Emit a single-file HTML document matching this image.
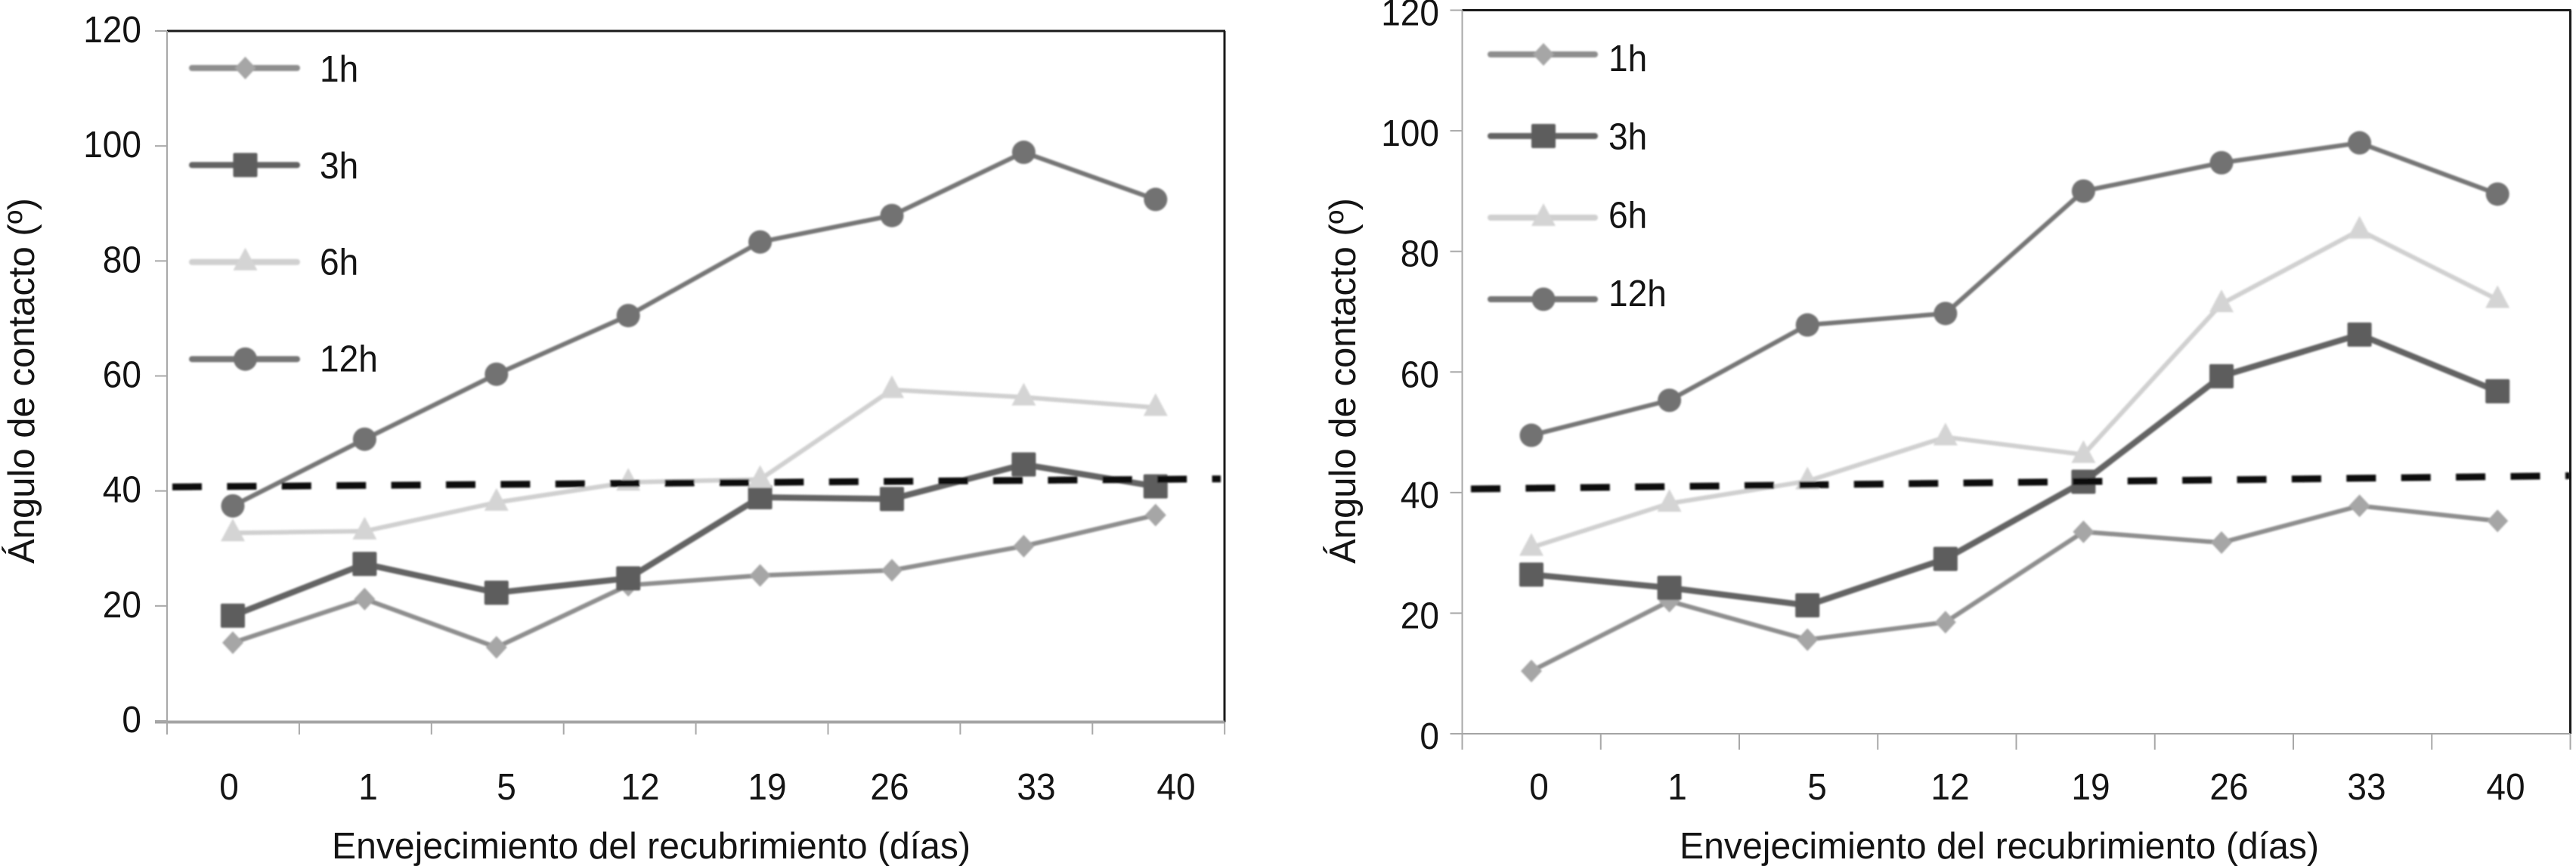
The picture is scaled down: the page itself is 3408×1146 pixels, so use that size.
<!DOCTYPE html>
<html lang="es">
<head>
<meta charset="utf-8">
<title>Ángulo de contacto</title>
<style>
html,body{margin:0;padding:0;background:#fff;}
svg{display:block;}
text{font-family:"Liberation Sans",Arial,sans-serif;fill:#141414;}
.lbl{font-size:49px;}
</style>
</head>
<body>
<svg id="figure" xmlns="http://www.w3.org/2000/svg" width="3408" height="1146" viewBox="0 0 3408 1146">
  <defs><filter id="soft" x="-5%" y="-5%" width="110%" height="110%"><feGaussianBlur stdDeviation="1"/></filter></defs>
  <rect x="0" y="0" width="3408" height="1146" fill="#ffffff"/>
  <g id="panel-left"></g>
  <g id="panel-right"></g>

  <g text-anchor="middle" class="lbl">
    <text x="303" y="1058" textLength="25.6" lengthAdjust="spacingAndGlyphs">0</text>
    <text x="487" y="1058" textLength="25.6" lengthAdjust="spacingAndGlyphs">1</text>
    <text x="670" y="1058" textLength="25.6" lengthAdjust="spacingAndGlyphs">5</text>
    <text x="847" y="1058" textLength="51.2" lengthAdjust="spacingAndGlyphs">12</text>
    <text x="1015" y="1058" textLength="51.2" lengthAdjust="spacingAndGlyphs">19</text>
    <text x="1177" y="1058" textLength="51.2" lengthAdjust="spacingAndGlyphs">26</text>
    <text x="1371" y="1058" textLength="51.2" lengthAdjust="spacingAndGlyphs">33</text>
    <text x="1556" y="1058" textLength="51.2" lengthAdjust="spacingAndGlyphs">40</text>
  </g>
  <g text-anchor="middle" class="lbl">
    <text x="2036" y="1058" textLength="25.6" lengthAdjust="spacingAndGlyphs">0</text>
    <text x="2219" y="1058" textLength="25.6" lengthAdjust="spacingAndGlyphs">1</text>
    <text x="2404" y="1058" textLength="25.6" lengthAdjust="spacingAndGlyphs">5</text>
    <text x="2580" y="1058" textLength="51.2" lengthAdjust="spacingAndGlyphs">12</text>
    <text x="2766" y="1058" textLength="51.2" lengthAdjust="spacingAndGlyphs">19</text>
    <text x="2949" y="1058" textLength="51.2" lengthAdjust="spacingAndGlyphs">26</text>
    <text x="3131" y="1058" textLength="51.2" lengthAdjust="spacingAndGlyphs">33</text>
    <text x="3315" y="1058" textLength="51.2" lengthAdjust="spacingAndGlyphs">40</text>
  </g>

  <text class="lbl" x="439" y="1136" textLength="845" lengthAdjust="spacingAndGlyphs">Envejecimiento del recubrimiento (días)</text>
  <text class="lbl" x="2222" y="1136" textLength="846" lengthAdjust="spacingAndGlyphs">Envejecimiento del recubrimiento (días)</text>
  <text class="lbl" transform="translate(45,746) rotate(-90)" textLength="484" lengthAdjust="spacingAndGlyphs">Ángulo de contacto (º)</text>
  <text class="lbl" transform="translate(1793,746) rotate(-90)" textLength="484" lengthAdjust="spacingAndGlyphs">Ángulo de contacto (º)</text>
</svg>

<script>
const categories = ["0", "1", "5", "12", "19", "26", "33", "40"];
const seriesNames = ["1h", "3h", "6h", "12h"];
const yTickValues = [0, 20, 40, 60, 80, 100, 120];

const left1h = [13.6, 21.2, 12.8, 23.6, 25.3, 26.2, 30.4, 35.8];
const left3h = [18.3, 27.3, 22.3, 24.8, 38.9, 38.6, 44.6, 40.8];
const left6h = [32.7, 33, 38, 41.5, 42, 57.6, 56.3, 54.5];
const left12h = [37.4, 49, 60.3, 70.5, 83.3, 87.9, 98.9, 90.7];
const leftReference = [40.7, 42.1];

const right1h = [10.4, 22, 15.6, 18.5, 33.5, 31.7, 37.8, 35.3];
const right3h = [26.4, 24.2, 21.3, 29, 41.8, 59.3, 66.2, 56.8];
const right6h = [30.9, 38.2, 41.9, 49.2, 46.3, 71.3, 83.5, 72];
const right12h = [49.5, 55.3, 67.8, 69.7, 90, 94.7, 98, 89.5];
const rightReference = [40.6, 42.8];

const NS = "http://www.w3.org/2000/svg";
function mk(parent, tag, attrs) {
  const el = document.createElementNS(NS, tag);
  for (const k in attrs) el.setAttribute(k, attrs[k]);
  parent.appendChild(el);
  return el;
}

const styles = [
  { line: "#8e8e8e", fill: "#a6a6a6", width: 6, shape: "diamond" },
  { line: "#636363", fill: "#5d5d5d", width: 8, shape: "square" },
  { line: "#d0d0d0", fill: "#d4d4d4", width: 6, shape: "triangle" },
  { line: "#767676", fill: "#727272", width: 6, shape: "circle" }
];
const DIGIT_WIDTH = 25.6;

function drawMarker(g, shape, cx, cy, fill, label) {
  let m;
  if (shape === "diamond") {
    m = mk(g, "polygon", { points: `${cx},${cy - 15} ${cx + 14},${cy} ${cx},${cy + 15} ${cx - 14},${cy}`, fill: fill });
  } else if (shape === "square") {
    m = mk(g, "rect", { x: cx - 16, y: cy - 16, width: 32, height: 32, rx: 2, fill: fill });
  } else if (shape === "triangle") {
    m = mk(g, "polygon", { points: `${cx},${cy - 19} ${cx + 16},${cy + 11} ${cx - 16},${cy + 11}`, fill: fill });
  } else {
    m = mk(g, "circle", { cx: cx, cy: cy, r: 15.5, fill: fill });
  }
  
  
}

function drawPanel(cfg) {
  const root = document.getElementById(cfg.id);
  const yScale = v => cfg.y0 - (v / 120) * (cfg.y0 - cfg.y120);
  const xScale = i => cfg.xFirst + i * cfg.xStep;

  // frame
  const frameTop = mk(root, "line", { x1: cfg.axisX, x2: cfg.rightX + 1, y1: cfg.y120, y2: cfg.y120, stroke: "#1a1a1a", "stroke-width": 3 });
  
  
  const frameRight = mk(root, "line", { x1: cfg.rightX, x2: cfg.rightX, y1: cfg.y120, y2: cfg.baseY, stroke: "#1a1a1a", "stroke-width": 3 });
  
  
  const yAxis = mk(root, "line", { x1: cfg.axisX, x2: cfg.axisX, y1: cfg.y120, y2: cfg.baseY, stroke: "#a8a8a8", "stroke-width": 2 });
  
  
  const xAxis = mk(root, "line", { x1: cfg.axisX - 16, x2: cfg.rightX, y1: cfg.baseY, y2: cfg.baseY, stroke: "#a4a4a4", "stroke-width": cfg.xAxisWidth });
  
  

  // y ticks
  yTickValues.forEach(v => {
    const t = mk(root, "line", { x1: cfg.axisX - 16, x2: cfg.axisX, y1: yScale(v), y2: yScale(v), stroke: "#a8a8a8", "stroke-width": 2 });
    
    
    const text = String(v);
    const lab = mk(root, "text", { x: cfg.yLabelX, y: yScale(v) + cfg.yLabelDy, "text-anchor": "end", class: "lbl", textLength: text.length * DIGIT_WIDTH, lengthAdjust: "spacingAndGlyphs" });
    lab.textContent = text;
    
    
  });

  // x ticks at category boundaries
  for (let i = 0; i <= categories.length; i++) {
    const x = cfg.axisX + i * cfg.tickStep;
    const t = mk(root, "line", { x1: x, x2: x, y1: cfg.baseY, y2: cfg.tickEnd, stroke: "#a8a8a8", "stroke-width": 2 });
    
    
  }

  // series
  const marks = mk(root, "g", { filter: "url(#soft)" });
  
  
  cfg.series.forEach((vals, s) => {
    const st = styles[s];
    const g = mk(marks, "g", {});
    
    
    const pts = vals.map((v, i) => xScale(i) + "," + yScale(v)).join(" ");
    const line = mk(g, "polyline", { points: pts, fill: "none", stroke: st.line, "stroke-width": st.width, "stroke-linejoin": "round" });
    
    
    vals.forEach((v, i) => drawMarker(g, st.shape, xScale(i), yScale(v), st.fill, cfg.prefix + "-point-" + seriesNames[s]));
  });

  // dashed reference line
  const ref = mk(marks, "line", {
    x1: cfg.refStart, x2: cfg.refEnd,
    y1: yScale(cfg.reference[0]), y2: yScale(cfg.reference[1]),
    stroke: "#0c0c0c", "stroke-width": 9, "stroke-dasharray": "39 33.4"
  });
  
  

  // legend
  seriesNames.forEach((name, s) => {
    const st = styles[s];
    const ly = cfg.legendY + s * cfg.legendGap;
    const g = mk(marks, "g", {});
    
    
    const l = mk(g, "line", { x1: cfg.legendX1, x2: cfg.legendX2, y1: ly, y2: ly, stroke: st.line, "stroke-width": 8, "stroke-linecap": "round" });
    
    
    drawMarker(g, st.shape, (cfg.legendX1 + cfg.legendX2) / 2 + 1, ly, st.fill, cfg.prefix + "-legend-marker-" + name);
    const txt = mk(root, "text", { x: cfg.legendTextX, y: cfg.legendTextY + s * cfg.legendTextGap, class: "lbl", textLength: name.length * DIGIT_WIDTH, lengthAdjust: "spacingAndGlyphs" });
    txt.textContent = name;
    
    
  });
}

drawPanel({
  id: "panel-left", prefix: "left",
  series: [left1h, left3h, left6h, left12h], reference: leftReference,
  y0: 954, y120: 41, baseY: 955.5, tickEnd: 972, xAxisWidth: 4,
  axisX: 221, rightX: 1620, tickStep: 174.9,
  xFirst: 308, xStep: 174.4,
  yLabelX: 187, yLabelDy: 15,
  refStart: 228, refEnd: 1615,
  legendY: 90, legendGap: 128.4, legendX1: 254, legendX2: 393, legendTextX: 423,
  legendTextY: 108, legendTextGap: 127.8
});

drawPanel({
  id: "panel-right", prefix: "right",
  series: [right1h, right3h, right6h, right12h], reference: rightReference,
  y0: 971, y120: 13.5, baseY: 971, tickEnd: 992, xAxisWidth: 2,
  axisX: 1934.5, rightX: 3400.5, tickStep: 183.25,
  xFirst: 2026, xStep: 182.6,
  yLabelX: 1904, yLabelDy: 20,
  refStart: 1946, refEnd: 3400,
  legendY: 72, legendGap: 108, legendX1: 1972, legendX2: 2110, legendTextX: 2128,
  legendTextY: 94, legendTextGap: 103.7
});
</script>
</body>
</html>
